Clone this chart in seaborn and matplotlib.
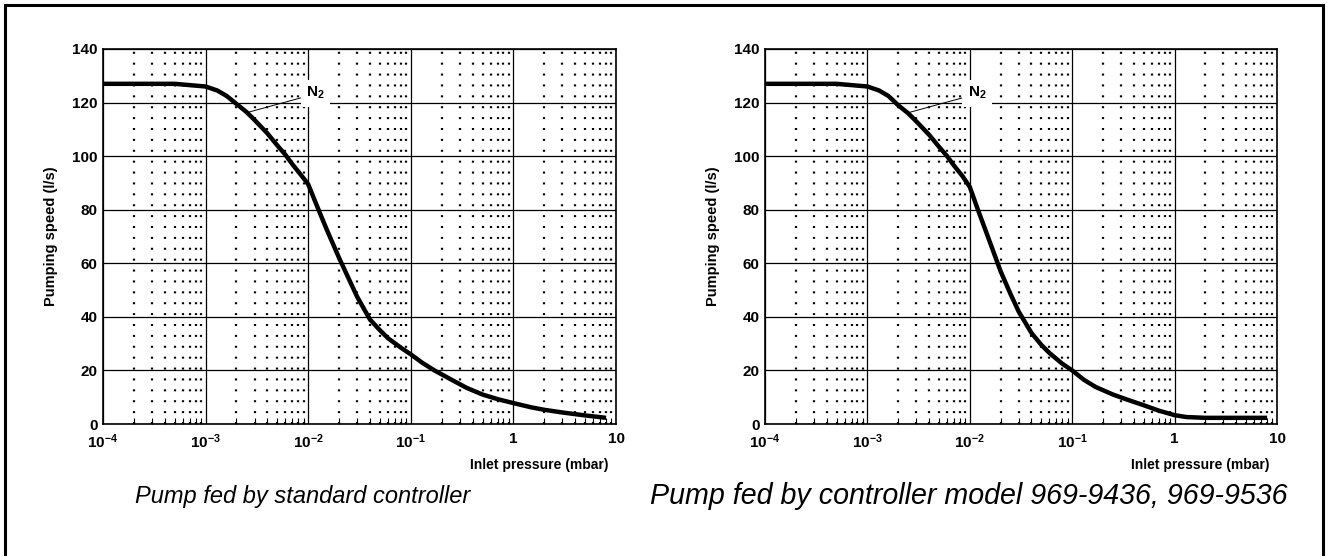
import numpy as np
import pandas as pd
import matplotlib
matplotlib.use("Agg")
import matplotlib.pyplot as plt
import matplotlib.ticker as mticker
from matplotlib.patches import Rectangle
import seaborn as sns

# ---- data ----
pressure_std = [1e-4, 5e-4, 1e-3, 1.3e-3, 1.6e-3, 2e-3, 2.5e-3, 3e-3, 4e-3, 5e-3,
                6e-3, 7e-3, 8.5e-3, 1e-2, 1.2e-2, 1.5e-2, 2e-2, 2.5e-2, 3e-2, 4e-2,
                5e-2, 6e-2, 8e-2, 1e-1, 1.3e-1, 1.7e-1, 2.5e-1, 3.5e-1, 5e-1, 7e-1,
                1.0, 1.5, 2.0, 3.0, 5.0, 8.0]
speed_std = [127, 127, 126, 124.5, 122.5, 119.5, 116.5, 113.5, 108.5, 104,
             100.5, 97, 93, 89.5, 82, 73, 62, 54, 47.5, 39,
             35, 32, 28.5, 26, 22.8, 20, 16.5, 13.5, 11, 9.3,
             7.8, 6.2, 5.3, 4.3, 3.2, 2.3]

pressure_alt = [1e-4, 5e-4, 1e-3, 1.3e-3, 1.6e-3, 2e-3, 2.5e-3, 3e-3, 4e-3, 5e-3,
                6e-3, 7e-3, 8.5e-3, 1e-2, 1.2e-2, 1.5e-2, 2e-2, 2.5e-2, 3e-2, 4e-2,
                5e-2, 6e-2, 8e-2, 1e-1, 1.3e-1, 1.7e-1, 2.5e-1, 3.5e-1, 5e-1, 7e-1,
                1.0, 1.3, 2.0, 4.0, 8.0]
speed_alt = [127, 127, 126, 124.5, 122.5, 119, 116, 113, 108, 103.5,
             100, 96.5, 92.5, 88.5, 80, 70, 57, 48.5, 42, 34,
             29.5, 26.5, 22.5, 20, 16.5, 13.8, 11, 9, 7, 5,
             3.3, 2.6, 2.3, 2.3, 2.3]

titles = ["Pump fed by standard controller",
          "Pump fed by controller model 969-9436, 969-9536"]
y_ticks = [0, 20, 40, 60, 80, 100, 120, 140]
x_major = [1e-4, 1e-3, 1e-2, 1e-1, 1, 10]
x_major_labels = [r"$\mathbf{10^{-4}}$", r"$\mathbf{10^{-3}}$", r"$\mathbf{10^{-2}}$",
                  r"$\mathbf{10^{-1}}$", "1", "10"]
xlabel = "Inlet pressure (mbar)"
ylabel = "Pumping speed (l/s)"

sns.set_theme(style="white")
plt.rcParams['font.family'] = ['Liberation Sans', 'DejaVu Sans']
plt.rcParams['mathtext.fontset'] = 'custom'
plt.rcParams['mathtext.rm'] = 'Liberation Sans'
plt.rcParams['mathtext.bf'] = 'Liberation Sans:bold'

W, H = 1328, 556
fig = plt.figure(figsize=(W / 100, H / 100), dpi=100)

def fx(px):
    return px / W

def fy(py):
    return 1 - py / H

axes_px = [(103, 616), (765, 1277)]
top_px, bot_px = 49, 424
title_cx = [303, 969]
title_fs = [17, 20.6]

datasets = [(pressure_std, speed_std), (pressure_alt, speed_alt)]

for i, ((x0, x1), (px, sp)) in enumerate(zip(axes_px, datasets)):
    ax = fig.add_axes([fx(x0), fy(bot_px), fx(x1) - fx(x0), fy(top_px) - fy(bot_px)])
    df = pd.DataFrame({"p": px, "s": sp})
    ax.set_xscale("log")
    sns.lineplot(data=df, x="p", y="s", ax=ax, color="black", linewidth=3.2,
                 zorder=5, estimator=None, sort=True)
    ax.lines[-1].set_solid_joinstyle("round")
    ax.lines[-1].set_solid_capstyle("butt")
    ax.set_xlim(1e-4, 10)
    ax.set_ylim(0, 140)

    # grids
    ax.xaxis.set_major_locator(mticker.FixedLocator(x_major))
    ax.xaxis.set_major_formatter(mticker.FixedFormatter(x_major_labels))
    ax.xaxis.set_minor_locator(mticker.LogLocator(base=10, subs=np.arange(2, 10)))
    ax.xaxis.set_minor_formatter(mticker.NullFormatter())
    ax.set_yticks(y_ticks)
    ax.grid(which="major", axis="both", color="black", linewidth=0.9, linestyle="-")
    ax.grid(which="minor", axis="x", color="black", linewidth=1.6,
            linestyle=(0, (0.9, 4.0)))
    ax.set_axisbelow(True)

    for s in ax.spines.values():
        s.set_visible(True)
        s.set_color("black")
        s.set_linewidth(1.2)

    ax.tick_params(axis="x", which="minor", direction="in", length=4, width=0.8,
                   bottom=True, top=False, color="black")
    ax.tick_params(axis="x", which="major", direction="in", length=0, pad=6)
    ax.tick_params(axis="y", which="major", direction="in", length=0, pad=4)
    for lab in ax.get_xticklabels() + ax.get_yticklabels():
        lab.set_fontweight("bold")
        lab.set_fontsize(11)
        lab.set_color("black")

    ax.set_xlabel(xlabel, fontsize=10, fontweight="bold", color="black")
    ax.xaxis.set_label_coords(0.985, -0.09)
    ax.xaxis.label.set_horizontalalignment("right")
    ax.set_ylabel(ylabel, fontsize=10.5, fontweight="bold", color="black", labelpad=10)

    # N2 annotation
    ax.annotate(r"$\mathbf{N_{2}}$", xy=(2.5e-3, 116.2), xytext=(9.5e-3, 123.5),
                fontsize=11, color="black", va="center", ha="left",
                bbox=dict(boxstyle="square,pad=0.35", fc="white", ec="none"),
                arrowprops=dict(arrowstyle="-", color="black", lw=0.7,
                                shrinkA=0, shrinkB=0,
                                relpos=(0.0, 0.3)), zorder=6)

    # caption
    fig.text(fx(title_cx[i]), fy(496), titles[i], ha="center", va="center",
             fontsize=title_fs[i], style="italic", color="black")

# outer border
fig.add_artist(Rectangle((fx(5), -0.05), fx(1323) - fx(5), fy(5) + 0.05,
                         transform=fig.transFigure, fill=False,
                         edgecolor="black", linewidth=2.2))

fig.savefig("out.png", dpi=100)
